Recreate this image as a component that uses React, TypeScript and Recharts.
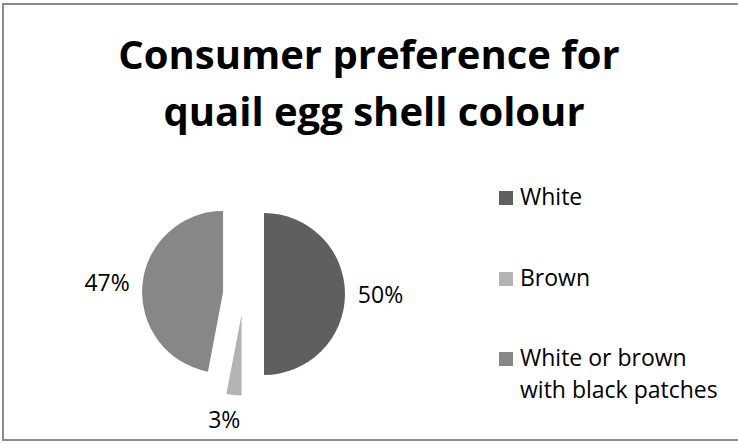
import React from 'react';
import { PieChart, Pie, Cell, Customized } from 'recharts';

// chart data
const categories = ['White', 'Brown', 'White or brown with black patches'];
const shares = [50, 3, 47];
const legendLines = [['White'], ['Brown'], ['White or brown', 'with black patches']];
const colours = ['#5f5f5f', '#b3b3b3', '#878787'];
const titleLines = ['Consumer preference for', 'quail egg shell colour'];

// layout
const W = 738;
const H = 443;
const CX = 243.5;
const CY = 294;
const R = 81;
const EXPLODE = 20.5;
const RAD = Math.PI / 180;
const FONT = '"Open Sans", sans-serif';

const data = categories.map((name, i) => ({ name, value: shares[i] }));
const total = shares.reduce((a, b) => a + b, 0);

// offset of each exploded slice along its bisector
const offsets = shares.map((v, i) => {
  const before = shares.slice(0, i).reduce((a, b) => a + b, 0);
  const mid = 90 - (360 * (before + v / 2)) / total;
  return { dx: EXPLODE * Math.cos(-mid * RAD), dy: EXPLODE * Math.sin(-mid * RAD) };
});

const renderLabel = (slice: number) => (props: any) => {
  if (props.index !== slice) return null;
  const { cx, cy, midAngle, outerRadius, percent } = props;
  const ux = Math.cos(-midAngle * RAD);
  const uy = Math.sin(-midAngle * RAD);
  const text = `${Math.round(percent * 100)}%`;
  const halfW = text.length * 7.5;
  // labels under/over the pie sit a bit left of the bisector, like Excel's
  const nudge = Math.abs(uy) > 0.9 ? -7 : 0;
  const x = cx + (outerRadius + 13 + halfW) * ux + nudge;
  const y = cy + (outerRadius + 24) * uy;
  return (
    <text key={`lbl-${slice}`} x={x} y={y} textAnchor="middle" dominantBaseline="central"
      fontFamily={FONT} fontSize={23} fill="#000">
      {text}
    </text>
  );
};

const titleX = [369, 374];
const titleY = [69, 126];
const legendSquareY = [191, 272, 352];
const legendBaseY = [205, 286, 366];

const Overlay = () => (
  <g>
    {titleLines.map((t, i) => (
      <text key={t} x={titleX[i]} y={titleY[i]} textAnchor="middle" fontFamily={FONT}
        fontWeight={700} fontSize={40} fill="#000">
        {t}
      </text>
    ))}
    {legendLines.map((lines, i) => (
      <g key={i}>
        <rect x={499} y={legendSquareY[i]} width={14} height={14} fill={colours[i]} />
        {lines.map((l, j) => (
          <text key={l} x={520} y={legendBaseY[i] + j * 32} fontFamily={FONT} fontSize={23} fill="#000">
            {l}
          </text>
        ))}
      </g>
    ))}
  </g>
);

export default function App() {
  return (
    <div style={{ position: 'relative', width: W, height: H, background: '#fff', overflow: 'hidden' }}>
      <style>{'body{margin:0}'}</style>
      <div style={{ position: 'absolute', left: 2, top: 3, width: W + 10, height: H - 5,
        border: '2px solid #8c8c8c', boxSizing: 'border-box' }} />
      <PieChart width={W} height={H} margin={{ top: 0, right: 0, bottom: 0, left: 0 }}>
        {offsets.map((o, s) => (
          <Pie
            key={s}
            data={data}
            dataKey="value"
            nameKey="name"
            cx={CX + o.dx}
            cy={CY + o.dy}
            outerRadius={R}
            startAngle={90}
            endAngle={-270}
            stroke="none"
            labelLine={false}
            label={renderLabel(s)}
            isAnimationActive={false}
          >
            {data.map((d, i) => (
              <Cell key={d.name} fill={i === s ? colours[i] : 'transparent'} stroke="none" />
            ))}
          </Pie>
        ))}
        <Customized component={Overlay} />
      </PieChart>
    </div>
  );
}
